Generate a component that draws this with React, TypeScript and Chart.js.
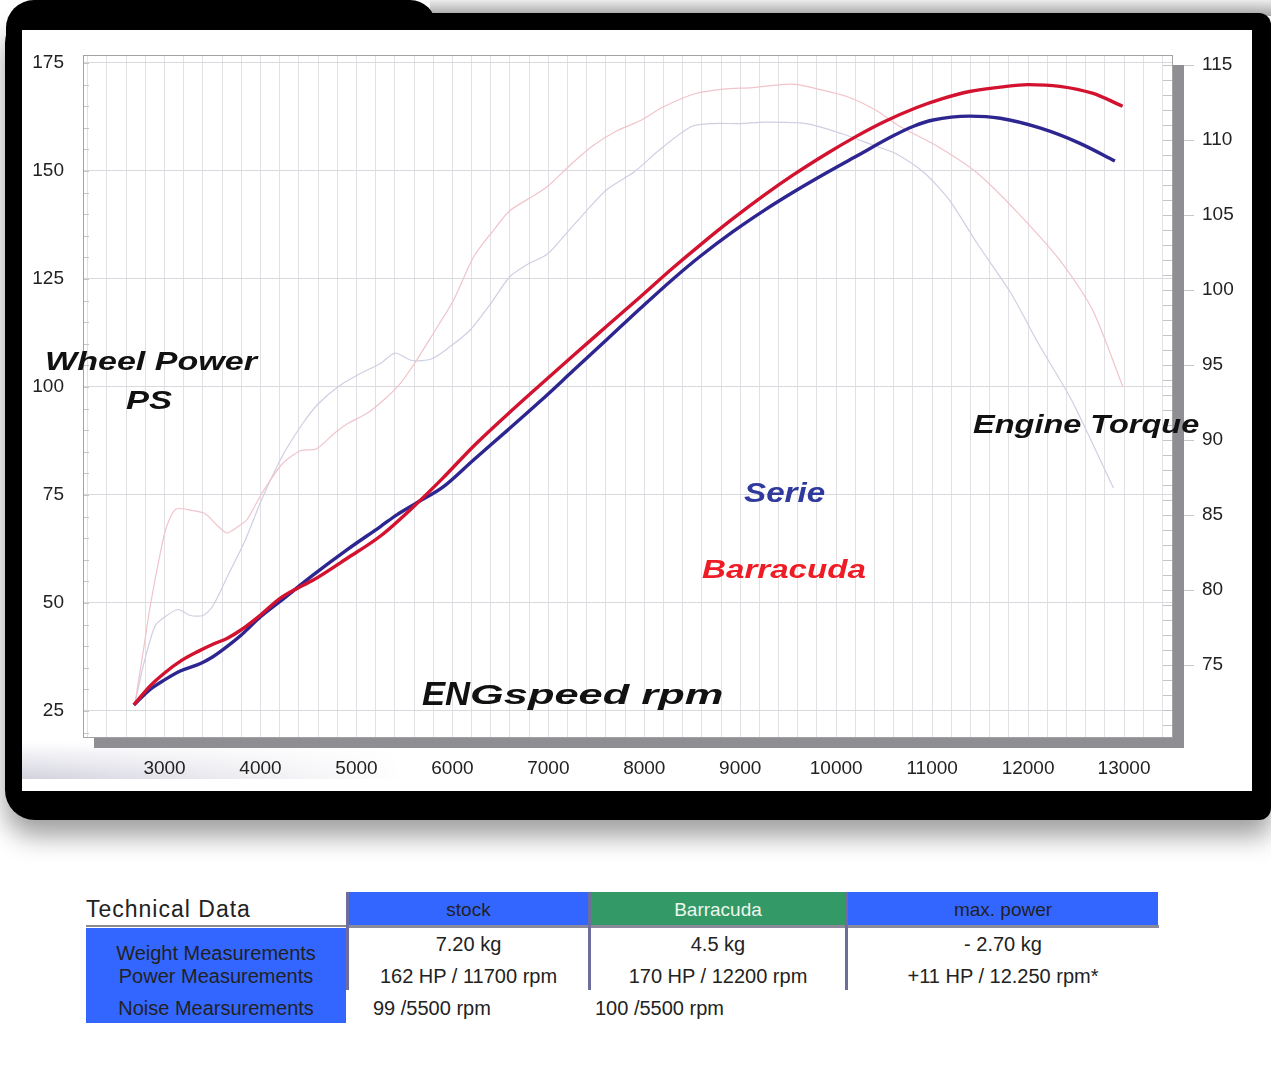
import React, { useEffect, useRef } from "react";
import { Chart, registerables } from "chart.js";

Chart.register(...registerables);

// ---------------- data ----------------
const barracudaPowerRpm = [2680, 2850, 3000, 3170, 3350, 3510, 3650, 3800, 4000, 4200, 4400, 4550, 4900, 5250, 5600, 5900, 6220, 6570, 6920, 7260, 7610, 7960, 8300, 8600, 8920, 9250, 9560, 9900, 10200, 10500, 10840, 11100, 11390, 11710, 12000, 12330, 12670, 12985];
const barracudaPowerPS = [26.4, 30.8, 33.8, 36.6, 38.8, 40.5, 41.8, 43.8, 47.2, 51.0, 53.6, 55.3, 60.3, 65.5, 72.4, 78.9, 86.3, 93.6, 100.6, 107.3, 114.1, 120.9, 127.6, 133.2, 138.9, 144.4, 149.2, 154.0, 157.9, 161.4, 164.7, 166.7, 168.4, 169.4, 170.0, 169.6, 168.0, 165.0];

const seriePowerRpm = [2680, 2850, 3000, 3170, 3375, 3500, 3650, 3800, 4000, 4200, 4550, 4900, 5250, 5420, 5630, 5900, 6220, 6570, 6920, 7260, 7610, 7960, 8300, 8580, 8920, 9250, 9560, 9900, 10200, 10600, 10800, 11010, 11390, 11710, 12130, 12540, 12905];
const seriePowerPS = [26.4, 30.0, 32.2, 34.3, 36.0, 37.5, 39.9, 42.6, 46.8, 50.3, 56.5, 62.3, 67.7, 70.4, 73.2, 76.8, 83.1, 89.9, 96.8, 103.8, 111.0, 118.2, 125.0, 130.2, 135.9, 140.9, 145.2, 149.6, 153.3, 158.2, 160.3, 161.8, 162.7, 162.2, 159.9, 156.4, 152.3];

const barracudaTorqueRpm = [2690, 2780, 2850, 2950, 3020, 3120, 3290, 3420, 3550, 3650, 3760, 3860, 4010, 4225, 4420, 4580, 4780, 4910, 5115, 5290, 5460, 5625, 5800, 6010, 6220, 6430, 6600, 6850, 6990, 7240, 7460, 7710, 7960, 8195, 8535, 8830, 9130, 9430, 9600, 9810, 10110, 10410, 10665, 11050, 11470, 11900, 12330, 12670, 12985];
const barracudaTorque = [72.4, 76.0, 78.9, 82.3, 84.2, 85.4, 85.3, 85.1, 84.3, 83.8, 84.2, 84.7, 86.4, 88.4, 89.3, 89.4, 90.5, 91.1, 91.8, 92.7, 93.8, 95.3, 97.1, 99.3, 102.2, 104.0, 105.3, 106.3, 106.9, 108.4, 109.6, 110.6, 111.3, 112.2, 113.1, 113.4, 113.5, 113.7, 113.7, 113.4, 112.9, 112.0, 110.9, 109.6, 107.8, 105.1, 102.0, 98.7, 93.6];

const serieTorqueRpm = [2690, 2780, 2900, 3000, 3140, 3270, 3400, 3500, 3670, 3840, 4010, 4225, 4440, 4600, 4820, 5030, 5250, 5400, 5580, 5780, 5970, 6180, 6400, 6600, 6780, 6990, 7190, 7400, 7610, 7900, 8150, 8490, 8710, 9000, 9260, 9690, 10070, 10410, 10620, 10920, 11180, 11470, 11820, 12110, 12450, 12890];
const serieTorque = [72.4, 75.0, 77.6, 78.2, 78.7, 78.3, 78.3, 78.9, 81.1, 83.3, 86.0, 88.9, 91.1, 92.4, 93.6, 94.4, 95.1, 95.8, 95.3, 95.4, 96.2, 97.3, 99.1, 100.9, 101.7, 102.4, 103.8, 105.3, 106.7, 107.9, 109.3, 110.9, 111.1, 111.1, 111.2, 111.1, 110.4, 109.6, 109.1, 107.8, 106.0, 103.1, 99.8, 96.4, 92.7, 86.8];

const rpmTickLabels = [3000, 4000, 5000, 6000, 7000, 8000, 9000, 10000, 11000, 12000, 13000];
const powerTickLabels = [25, 50, 75, 100, 125, 150, 175];
const torqueTickLabels = [75, 80, 85, 90, 95, 100, 105, 110, 115];

const RPM_MIN = 2150;
const RPM_MAX = 13500;
const PS_MIN = 18.98;
const PS_MAX = 176.85;
const TQ_MIN = 70.2;
const TQ_MAX = 115.67;

const tableHeaders = ["stock", "Barracuda", "max. power"];
const rowLabels = ["Weight Measurements", "Power Measurements", "Noise Mearsurements"];
const weightRow = ["7.20 kg", "4.5 kg", "- 2.70 kg"];
const powerRow = ["162 HP / 11700 rpm", "170 HP / 12200 rpm", "+11 HP / 12.250 rpm*"];
const noiseRow = ["99 /5500 rpm", "100 /5500 rpm"];

const FONT = '"Liberation Sans", Arial, Helvetica, sans-serif';

const toPoints = (xs: number[], ys: number[]) => xs.map((x, i) => ({ x, y: ys[i] }));

const framePlugin = {
  id: "dynoFrame",
  beforeDatasetsDraw(chart: any) {
    const { ctx, chartArea: a, scales } = chart;
    ctx.save();
    ctx.strokeStyle = "#c4c4c8";
    ctx.lineWidth = 1;
    for (const t of scales.y.ticks) {
      const y = Math.round(scales.y.getPixelForValue(t.value)) + 0.5;
      ctx.beginPath();
      ctx.moveTo(a.left, y);
      ctx.lineTo(a.left + 6, y);
      ctx.stroke();
    }
    for (const t of scales.y2.ticks) {
      const y = Math.round(scales.y2.getPixelForValue(t.value)) + 0.5;
      ctx.beginPath();
      ctx.moveTo(a.right - 9, y);
      ctx.lineTo(a.right, y);
      ctx.stroke();
    }
    ctx.restore();
  },
  afterDraw(chart: any) {
    const { ctx, chartArea: a, scales } = chart;
    ctx.save();
    ctx.fillStyle = "#8f8f93";
    ctx.fillRect(a.right + 1, a.top + 10, 11, a.bottom - a.top + 1);
    ctx.fillRect(a.left + 11, a.bottom + 1, a.right - a.left + 1, 10);
    ctx.strokeStyle = "#a3a3a6";
    ctx.lineWidth = 1;
    ctx.strokeRect(a.left + 0.5, a.top + 0.5, a.right - a.left, a.bottom - a.top);
    ctx.strokeStyle = "#c8c8cc";
    for (const t of scales.y2.ticks) {
      if (!torqueTickLabels.includes(t.value)) continue;
      const y = Math.round(scales.y2.getPixelForValue(t.value)) + 0.5;
      ctx.beginPath();
      ctx.moveTo(a.right + 12, y);
      ctx.lineTo(a.right + 22, y);
      ctx.stroke();
    }
    ctx.restore();
  },
};

function DynoChart() {
  const ref = useRef<HTMLCanvasElement | null>(null);
  useEffect(() => {
    if (!ref.current) return;
    const tickFont = { family: FONT, size: 19 };
    const chart = new Chart(ref.current, {
      type: "line",
      data: {
        datasets: [
          {
            label: "Barracuda power",
            data: toPoints(barracudaPowerRpm, barracudaPowerPS),
            yAxisID: "y",
            borderColor: "#d3122f",
            borderWidth: 3.4,
            pointRadius: 0,
            cubicInterpolationMode: "monotone",
          },
          {
            label: "Serie power",
            data: toPoints(seriePowerRpm, seriePowerPS),
            yAxisID: "y",
            borderColor: "#2e2690",
            borderWidth: 3.4,
            pointRadius: 0,
            cubicInterpolationMode: "monotone",
          },
          {
            label: "Barracuda torque",
            data: toPoints(barracudaTorqueRpm, barracudaTorque),
            yAxisID: "y2",
            borderColor: "#f1c3ca",
            borderWidth: 1.2,
            pointRadius: 0,
            tension: 0.25,
          },
          {
            label: "Serie torque",
            data: toPoints(serieTorqueRpm, serieTorque),
            yAxisID: "y2",
            borderColor: "#cfcfe2",
            borderWidth: 1.2,
            pointRadius: 0,
            tension: 0.25,
          },
        ],
      },
      options: {
        animation: false,
        responsive: false,
        maintainAspectRatio: false,
        layout: { autoPadding: false, padding: { top: 25, left: 0, right: 0, bottom: 0 } },
        plugins: { legend: { display: false }, title: { display: false }, tooltip: { enabled: false } },
        scales: {
          x: {
            type: "linear",
            min: RPM_MIN,
            max: RPM_MAX,
            afterFit: (s: any) => {
              s.height = 55;
            },
            border: { display: false },
            grid: { color: "#e0e0e5", lineWidth: 1, drawTicks: false },
            ticks: {
              stepSize: 200,
              includeBounds: false,
              autoSkip: false,
              maxRotation: 0,
              padding: 20,
              color: "#222",
              font: tickFont,
              callback: (v: any) => (rpmTickLabels.includes(Number(v)) ? String(v) : ""),
            },
          },
          y: {
            position: "left",
            min: PS_MIN,
            max: PS_MAX,
            afterFit: (s: any) => {
              s.width = 61;
              s.paddingTop = 0;
              s.paddingBottom = 0;
            },
            border: { display: false },
            grid: {
              drawTicks: false,
              color: (c: any) => (powerTickLabels.includes(c.tick.value) ? "#dadade" : "rgba(0,0,0,0)"),
            },
            ticks: {
              stepSize: 5,
              includeBounds: false,
              autoSkip: false,
              padding: 19,
              color: "#222",
              font: tickFont,
              callback: (v: any) => (powerTickLabels.includes(Number(v)) ? String(v) : ""),
            },
          },
          y2: {
            position: "right",
            min: TQ_MIN,
            max: TQ_MAX,
            afterFit: (s: any) => {
              s.width = 80;
              s.paddingTop = 0;
              s.paddingBottom = 0;
            },
            border: { display: false },
            grid: { drawOnChartArea: false, drawTicks: false },
            ticks: {
              stepSize: 1,
              includeBounds: false,
              autoSkip: false,
              padding: 30,
              color: "#222",
              font: tickFont,
              callback: (v: any) => (torqueTickLabels.includes(Number(v)) ? String(v) : ""),
            },
          },
        },
      },
      plugins: [framePlugin],
    } as any);
    return () => chart.destroy();
  }, []);
  return (
    <canvas
      ref={ref}
      width={1230}
      height={762}
      style={{ position: "absolute", left: 22, top: 30, width: 1230, height: 762 }}
    />
  );
}

function Txt(props: {
  children: any;
  left: number;
  top: number;
  size: number;
  color?: string;
  weight?: number;
  sx?: number;
}) {
  const { children, left, top, size, color = "#111", weight = 700, sx = 1 } = props;
  return (
    <span
      style={{
        position: "absolute",
        left,
        top,
        fontFamily: FONT,
        fontSize: size,
        lineHeight: 1,
        fontWeight: weight,
        fontStyle: "italic",
        color,
        whiteSpace: "nowrap",
        transform: `scaleX(${sx})`,
        transformOrigin: "left top",
      }}
    >
      {children}
    </span>
  );
}

function Cell(props: { text: string; left: number; width: number; cy: number; color?: string; size?: number; align?: "center" | "left" }) {
  const { text, left, width, cy, color = "#222", size = 20, align = "center" } = props;
  return (
    <div
      style={{
        position: "absolute",
        left,
        width,
        top: cy - 12,
        height: 24,
        lineHeight: "24px",
        textAlign: align,
        fontFamily: FONT,
        fontSize: size,
        color,
        whiteSpace: "nowrap",
      }}
    >
      {text}
    </div>
  );
}

export default function App() {
  const abs = (s: any) => ({ position: "absolute" as const, ...s });
  const colLeft = [349, 591, 848];
  const colWidth = [239, 254, 310];
  const headerBg = ["#3366ff", "#339966", "#3366ff"];
  const headerFg = ["#222", "#eef6ee", "#222"];
  return (
    <div style={abs({ left: 0, top: 0, width: 1271, height: 1090, background: "#fff", overflow: "hidden" })}>
      {/* frame */}
      <div style={abs({ left: 430, top: 0, width: 841, height: 16, background: "linear-gradient(to bottom, #ececec, #a9a9a9)" })} />
      <div
        style={abs({
          left: 5,
          top: 13,
          width: 1266,
          height: 807,
          background: "#000",
          borderRadius: "30px 12px 12px 30px",
          boxShadow: "0 16px 26px rgba(0,0,0,0.38)",
        })}
      />
      <div style={abs({ left: 6, top: 0, width: 430, height: 60, background: "#000", borderRadius: "28px 26px 0 0" })} />
      <div style={abs({ left: 22, top: 30, width: 1230, height: 761, background: "#fff" })} />
      <div
        style={abs({
          left: 22,
          top: 742,
          width: 380,
          height: 37,
          background:
            "linear-gradient(to right, rgba(255,255,255,0) 0%, rgba(255,255,255,1) 100%), linear-gradient(to bottom, #ffffff 0%, #d2d2de 100%)",
        })}
      />
      <DynoChart />

      {/* chart annotations */}
      <Txt left={45} top={348} size={26} sx={1.31}>Wheel Power</Txt>
      <Txt left={126} top={387} size={26} sx={1.33}>PS</Txt>
      <Txt left={973} top={411} size={26} sx={1.25}>Engine Torque</Txt>
      <Txt left={744} top={480} size={27} sx={1.23} color="#2f3a9c">Serie</Txt>
      <Txt left={702} top={556} size={26} sx={1.275} color="#ee1c25">Barracuda</Txt>
      <Txt left={422} top={677} size={33} sx={1.05}>EN</Txt>
      <Txt left={470} top={681} size={28} sx={1.55}>Gspeed rpm</Txt>

      {/* technical data table */}
      <div style={abs({ left: 86, top: 897, height: 24, lineHeight: "24px", fontFamily: FONT, fontSize: 23, letterSpacing: 1, color: "#222" })}>
        Technical Data
      </div>
      <div style={abs({ left: 86, top: 925, width: 262, height: 2, background: "#8a8a8e" })} />
      {tableHeaders.map((h, i) => (
        <div key={h} style={abs({ left: colLeft[i], top: 892, width: colWidth[i], height: 34, background: headerBg[i] })} />
      ))}
      <div style={abs({ left: 346, top: 925, width: 813, height: 3, background: "#8a8a9a" })} />
      {[346, 588, 845].map((x) => (
        <div key={x} style={abs({ left: x, top: 892, width: 3, height: 98, background: "#6e6e9e" })} />
      ))}
      {tableHeaders.map((h, i) => (
        <Cell key={"h" + h} text={h} left={colLeft[i]} width={colWidth[i]} cy={910} size={19} color={headerFg[i]} />
      ))}
      <div style={abs({ left: 86, top: 928, width: 260, height: 95, background: "#3366ff" })} />
      <Cell text={rowLabels[0]} left={86} width={260} cy={953} />
      <Cell text={rowLabels[1]} left={86} width={260} cy={976} />
      <Cell text={rowLabels[2]} left={86} width={260} cy={1008} />
      {weightRow.map((t, i) => (
        <Cell key={"w" + i} text={t} left={colLeft[i]} width={colWidth[i]} cy={944} />
      ))}
      {powerRow.map((t, i) => (
        <Cell key={"p" + i} text={t} left={colLeft[i]} width={colWidth[i]} cy={976} />
      ))}
      <Cell text={noiseRow[0]} left={373} width={200} cy={1008} align="left" />
      <Cell text={noiseRow[1]} left={595} width={200} cy={1008} align="left" />
    </div>
  );
}
